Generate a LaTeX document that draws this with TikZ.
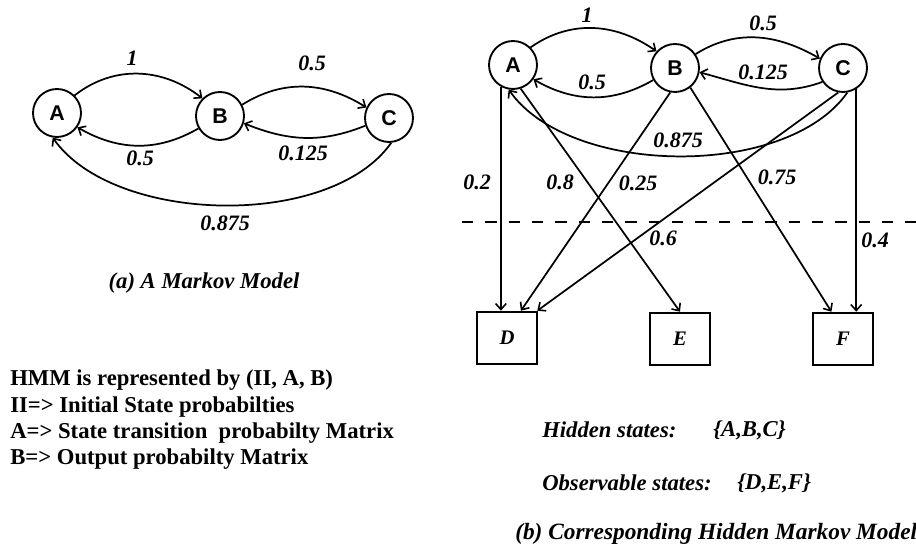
\documentclass[tikz,border=0pt]{standalone}
\usepackage{fontspec}
\setmainfont{Liberation Serif}
\newfontfamily\statefont{Liberation Sans}
\usetikzlibrary{arrows.meta,calc}

\begin{document}
\begin{tikzpicture}[x=0.75pt,y=0.75pt,
  state/.style={circle,draw,line width=1.4pt,minimum size=36pt,inner sep=0pt,
    font=\statefont\bfseries\fontsize{16}{16}\selectfont},
  obs/.style={rectangle,draw,line width=1.9pt,minimum width=45pt,minimum height=39pt,
    inner sep=0pt,font=\bfseries\itshape\fontsize{15.5}{15.5}\selectfont},
  edge/.style={line width=1.3pt,-{Straight Barb[length=4.5pt,width=8pt,line width=1.2pt]}},
  prob/.style={font=\bfseries\itshape\fontsize{16.5}{16.5}\selectfont,inner sep=0pt},
  note/.style={font=\bfseries\fontsize{17}{17}\selectfont,inner sep=0pt,anchor=west},
  caption/.style={font=\bfseries\itshape\fontsize{17}{17}\selectfont,inner sep=0pt},
]
\useasboundingbox[fill=white] (0,0) rectangle (916,548);

% ---------- (a) Markov model ----------
\node[state] (a1) at (57,435) {A};
\node[state] (b1) at (220,432) {B};
\node[state] (c1) at (389,430) {C};

\draw[edge] (a1.45) to[out=38,in=142] (b1.135);
\draw[edge] (b1.210) to[out=210,in=-30] (a1.-35);
\draw[edge] (b1.27) to[out=32,in=148] (c1.155);
\draw[edge] (c1.198) to[out=202,in=-22] (b1.-17);
\draw[edge] (c1.-85) to[out=235,in=-55,looseness=0.8] (a1.-100);

\node[prob] (p1a) at (132,490) {1};
\node[prob] (p2a) at (140,390) {0.5};
\node[prob] (p3a) at (312,485) {0.5};
\node[prob] (p4a) at (303,395) {0.125};
\node[prob] (p5a) at (225,325) {0.875};

\node[caption] (capa) at (204,265) {(a) A Markov Model};

% ---------- HMM definition ----------
\node[note] (n1) at (10,168) {HMM is represented by (II, A, B)};
\node[note] (n2) at (10,141) {II=> Initial State probabilties};
\node[note] (n3) at (10,115) {A=> State transition\ \ probabilty Matrix};
\node[note] (n4) at (10,89) {B=> Output probabilty Matrix};

% ---------- (b) Hidden Markov model ----------
\node[state] (a2) at (513,483) {A};
\node[state] (b2) at (675,480) {B};
\node[state] (c2) at (843,480) {C};

\node[obs] (d) at (507,210) {D};
\node[obs] (e) at (680,209) {E};
\node[obs] (f) at (843,209) {F};

% transitions between hidden states
\draw[edge] (a2.45) to[out=35,in=145] (b2.138);
\draw[edge] (b2.209) to[out=210,in=-30] (a2.-35);
\draw[edge] (b2.34) to[out=32,in=150] (c2.158);
\draw[edge] (c2.214) to[out=200,in=-15] (b2.-10);
\draw[edge] (c2.-80) to[out=235,in=-55,looseness=0.8] (a2.-100);

% emissions
\draw[edge] (a2.-119) -- (a2.-119 |- d.north);
\draw[edge] (a2.-72) -- (e.north);
\draw[edge] (b2.-101) -- (d.63);
\draw[edge] (c2.-101) -- (d.42);
\draw[edge] (b2.-52) -- (f.113);
\draw[edge] (c2.-58) -- (c2.-58 |- f.north);

% boundary between hidden and observable layers
\coordinate (dl) at (462,326);
\coordinate (dr) at (916,326);
\draw[line width=1.3pt,dash pattern=on 8.5pt off 9pt] (dl) -- (dr);

\node[prob] (q1) at (587,533) {1};
\node[prob] (q2) at (592,466) {0.5};
\node[prob] (q3) at (763,525) {0.5};
\node[prob] (q4) at (763,476) {0.125};
\node[prob] (q5) at (678,408) {0.875};
\node[prob] (q6) at (477,366) {0.2};
\node[prob] (q7) at (560,366) {0.8};
\node[prob] (q8) at (638,365) {0.25};
\node[prob] (q9) at (777,371) {0.75};
\node[prob] (q10) at (663,310) {0.6};
\node[prob] (q11) at (875,308) {0.4};

\node[caption,anchor=west] (h1) at (542,118) {Hidden states:};
\node[caption,anchor=west] (h2) at (713,118) {\{A,B,C\}};
\node[caption,anchor=west] (o1) at (542,65) {Observable states:};
\node[caption,anchor=west] (o2) at (737,65) {\{D,E,F\}};
\node[caption,anchor=west,font=\bfseries\itshape\fontsize{17.5}{17.5}\selectfont]
  (capb) at (515,14) {(b) Corresponding Hidden Markov Model};
\end{tikzpicture}
\end{document}
